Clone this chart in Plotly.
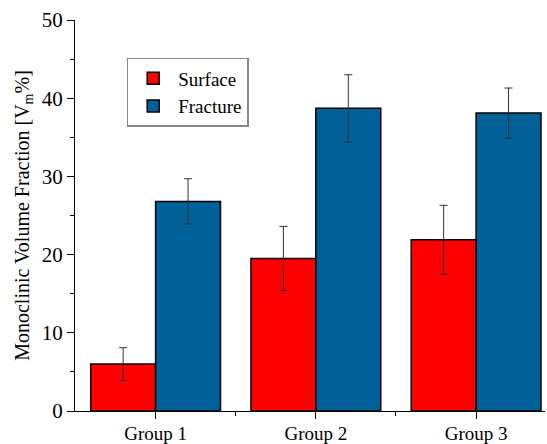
import plotly.graph_objects as go

groups = ["Group 1", "Group 2", "Group 3"]
surface = [6.0, 19.5, 21.9]
surface_err = [2.1, 4.1, 4.4]
fracture = [26.8, 38.7, 38.1]
fracture_err = [2.9, 4.3, 3.2]
xpos = [0, 1, 2]

FONT = "Liberation Serif, serif"

fig = go.Figure()
fig.add_trace(go.Bar(
    name="Surface", x=xpos, y=surface, offsetgroup="s",
    marker=dict(color="#FF0000", line=dict(color="black", width=1.5)),
    error_y=dict(type="data", array=surface_err, color="#333333", thickness=1, width=4),
))
fig.add_trace(go.Bar(
    name="Fracture", x=xpos, y=fracture, offsetgroup="f",
    marker=dict(color="#006098", line=dict(color="black", width=1.5)),
    error_y=dict(type="data", array=fracture_err, color="#333333", thickness=1, width=4),
))

fig.update_layout(
    width=547, height=444,
    margin=dict(l=75, r=2, t=20, b=33),
    plot_bgcolor="white", paper_bgcolor="white",
    barmode="group", bargap=0.19, bargroupgap=0,
    font=dict(family=FONT, size=19, color="black"),
    showlegend=True,
    legend=dict(
        x=0.11, y=0.903, xanchor="left", yanchor="top",
        bordercolor="#888888", borderwidth=1.5, bgcolor="white",
        font=dict(family=FONT, size=19), tracegroupgap=0, itemwidth=40,
    ),
)
fig.update_xaxes(
    range=[-0.503, 2.43], tickmode="array", tickvals=xpos, ticktext=groups,
    ticks="outside", ticklen=7, tickwidth=1, tickcolor="black",
    showline=True, linecolor="black", linewidth=1.2, showgrid=False, zeroline=False,
    tickfont=dict(family=FONT, size=19), automargin=False, ticklabelstandoff=-2,
    minor=dict(tickvals=[0.5, 1.5], ticks="outside", ticklen=4, tickcolor="black", showgrid=False),
)
fig.update_yaxes(
    range=[0, 50], dtick=10, ticks="outside", ticklen=7, tickwidth=1, tickcolor="black",
    showline=True, linecolor="black", linewidth=1.2, showgrid=False, zeroline=False,
    tickfont=dict(family=FONT, size=21), automargin=False,
    minor=dict(dtick=5, ticks="outside", ticklen=4, tickcolor="black", showgrid=False),
    title=dict(text="Monoclinic Volume Fraction [V<sub>m</sub>%]", font=dict(family=FONT, size=20), standoff=6),
)

fig.write_html("out.html")
